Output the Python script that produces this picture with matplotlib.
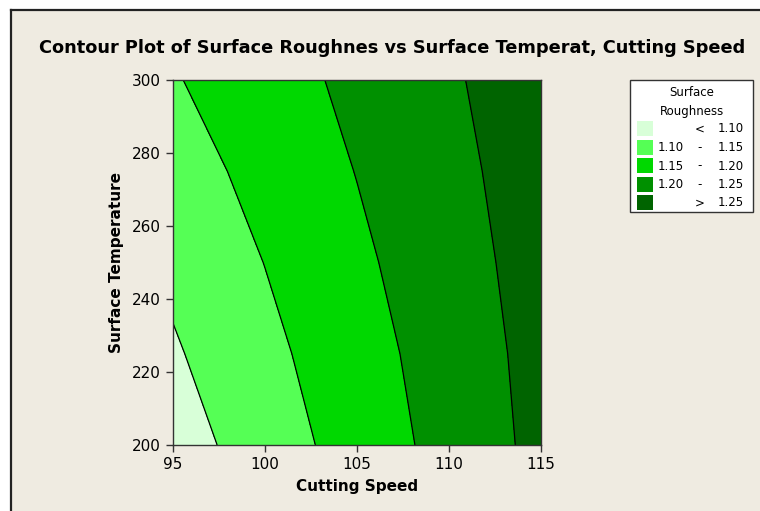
import numpy as np
import matplotlib
matplotlib.use("Agg")
import matplotlib.pyplot as plt
from matplotlib.patches import Rectangle

# values: roughness at a coarse grid of speed x temperature
speed = [95, 100, 105, 110, 115]
temperature = [200, 225, 250, 275, 300]
roughness = [
    [1.0774, 1.1245, 1.1711, 1.2170, 1.2628],  # 200
    [1.0945, 1.1376, 1.1801, 1.2227, 1.2655],  # 225
    [1.1109, 1.1508, 1.1907, 1.2300, 1.2692],  # 250
    [1.1285, 1.1649, 1.2013, 1.2371, 1.2728],  # 275
    [1.1464, 1.1788, 1.2114, 1.2441, 1.2768],  # 300
]
levels = [1.10, 1.15, 1.20, 1.25]
level_labels = [("", "<", "1.10"), ("1.10", "-", "1.15"), ("1.15", "-", "1.20"),
                ("1.20", "-", "1.25"), ("", ">", "1.25")]
colors = ["#d8ffd8", "#55ff55", "#00d800", "#009000", "#006400"]

bg = "#efebe1"
fig = plt.figure(figsize=(7.6, 5.11), dpi=100, facecolor="white")

# beige panel with a dark border on the top and left, white outside it
fig.add_artist(Rectangle((11 / 760, 0), 1, 1 - 10 / 511, transform=fig.transFigure,
                         facecolor=bg, edgecolor="none", zorder=0))
fig.add_artist(plt.Line2D([11 / 760, 11 / 760], [0, 1 - 10 / 511], color="#222222", lw=1.6))
fig.add_artist(plt.Line2D([11 / 760, 1], [1 - 10 / 511, 1 - 10 / 511], color="#222222", lw=1.6))

ax = fig.add_axes([173 / 760, 1 - 445 / 511, 368 / 760, 365 / 511])
X, Y = np.meshgrid(speed, temperature)
Z = np.array(roughness)
bounds = [Z.min() - 1] + levels + [Z.max() + 1]
ax.contourf(X, Y, Z, levels=bounds, colors=colors)
ax.contour(X, Y, Z, levels=levels, colors="black", linewidths=0.9)

ax.set_xlim(95, 115)
ax.set_ylim(200, 300)
ax.set_xticks([95, 100, 105, 110, 115])
ax.set_yticks([200, 220, 240, 260, 280, 300])
ax.tick_params(labelsize=11, length=5, width=1, color="#333333", direction="out")
for s in ax.spines.values():
    s.set_color("#333333")
    s.set_linewidth(1)
ax.set_xlabel("Cutting Speed", fontsize=11, fontweight="bold", labelpad=5)
ax.set_ylabel("Surface Temperature", fontsize=11, fontweight="bold", labelpad=6)

fig.text(392 / 760, 1 - 48 / 511,
         "Contour Plot of Surface Roughnes vs Surface Temperat, Cutting Speed",
         ha="center", va="center", fontsize=12.8, fontweight="bold")

# legend box drawn in pixel coordinates
lg = fig.add_axes([0, 0, 1, 1], facecolor="none")
lg.set_xlim(0, 760)
lg.set_ylim(511, 0)
lg.axis("off")
lg.add_patch(Rectangle((630, 80), 123, 132, facecolor="white", edgecolor="#333333", lw=1))
lg.text(692, 93, "Surface", ha="center", va="center", fontsize=8.5)
lg.text(692, 111, "Roughness", ha="center", va="center", fontsize=8.5)
for i, (lo, sym, hi) in enumerate(level_labels):
    yc = 129 + i * 18.5
    lg.add_patch(Rectangle((637, yc - 7.5), 16, 15, facecolor=colors[i], edgecolor="none"))
    lg.text(684, yc, lo, ha="right", va="center", fontsize=8.5)
    lg.text(700, yc, sym, ha="center", va="center", fontsize=8.5)
    lg.text(744, yc, hi, ha="right", va="center", fontsize=8.5)

fig.savefig("out.png", dpi=100, facecolor="white")
